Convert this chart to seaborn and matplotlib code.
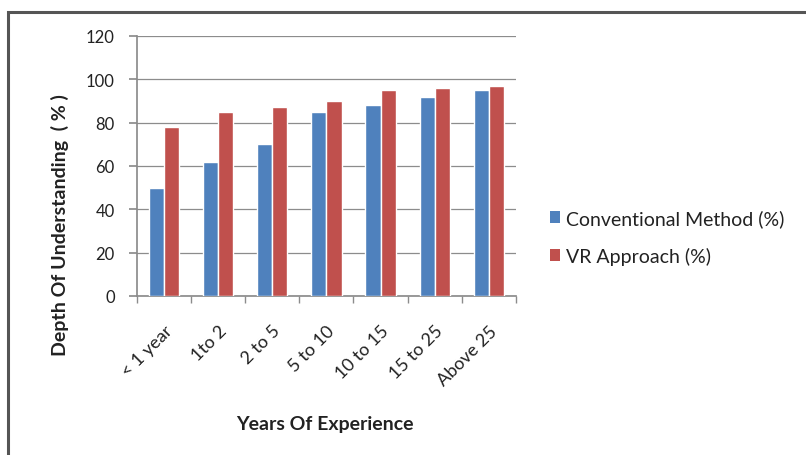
import matplotlib
matplotlib.use("Agg")
import matplotlib.pyplot as plt
import seaborn as sns
import pandas as pd
from matplotlib.patches import Rectangle, Patch

categories = ["< 1 year", "1to 2", "2 to 5", "5 to 10", "10 to 15", "15 to 25", "Above 25"]
conventional = [50, 62, 70, 85, 88, 92, 95]
vr = [78, 85, 87, 90, 95, 96, 97]
series_names = ["Conventional Method (%)", "VR Approach (%)"]
colors = ["#4F81BD", "#C0504D"]

df = pd.DataFrame({
    "cat": categories * 2,
    "val": conventional + vr,
    "series": [series_names[0]] * len(categories) + [series_names[1]] * len(categories),
})

sns.set_theme(style="white")
plt.rcParams["font.family"] = ["Lato", "DejaVu Sans"]

fig = plt.figure(figsize=(8.06, 4.56), dpi=100)
ax = fig.add_axes([0.170, 0.349, 0.470, 0.570])

sns.barplot(data=df, x="cat", y="val", hue="series", palette=colors, ax=ax,
            width=0.56, gap=0, saturation=1, legend=False, zorder=3)

ax.set_ylim(0, 120)
ax.set_yticks(range(0, 121, 20))
ax.set_xlim(-0.5, len(categories) - 0.5)
ax.yaxis.grid(True, color="#8c8c8c", linewidth=0.9, zorder=0)
ax.set_axisbelow(True)
for s in ["top", "right"]:
    ax.spines[s].set_visible(False)
ax.spines["left"].set_color("#8c8c8c")
ax.spines["bottom"].set_color("#8c8c8c")

ax.set_xticks([i for i in range(len(categories))])
ax.set_xticklabels(categories, rotation=45, ha="right", rotation_mode="anchor",
                   fontsize=13, color="#222222")
ax.tick_params(axis="x", length=0, pad=19)
ax.tick_params(axis="y", labelsize=12, labelcolor="#222222", left=True, length=6,
               color="#8c8c8c", pad=10)
ax.set_xticks([i - 0.5 for i in range(len(categories) + 1)], minor=True)
ax.tick_params(axis="x", which="minor", bottom=True, length=5, color="#8c8c8c", direction="out")

ax.set_xlabel("")
ax.set_ylabel("")
fig.text(325 / 806, 1 - 425 / 456, "Years Of Experience", fontsize=14, fontweight="bold",
         color="#222222", ha="center", va="center")
fig.text(60 / 806, 1 - 225 / 456, "Depth Of Understanding  ( % )", fontsize=14,
         fontweight="bold", color="#222222", ha="center", va="center", rotation=90)

handles = [Patch(facecolor=c, edgecolor="none") for c in colors]
fig.legend(handles, series_names, loc="center left", bbox_to_anchor=(0.670, 1 - 238 / 456),
           frameon=False, fontsize=14, handlelength=0.55, handleheight=0.55,
           handletextpad=0.3, labelspacing=1.0, labelcolor="#222222", borderpad=0)

border = Rectangle((8 / 806, -0.1), 1.2, 1 - 13 / 456 + 0.1, transform=fig.transFigure,
                   fill=False, edgecolor="#555555", linewidth=2.2)
fig.patches.append(border)

fig.savefig("out.png", dpi=100)
